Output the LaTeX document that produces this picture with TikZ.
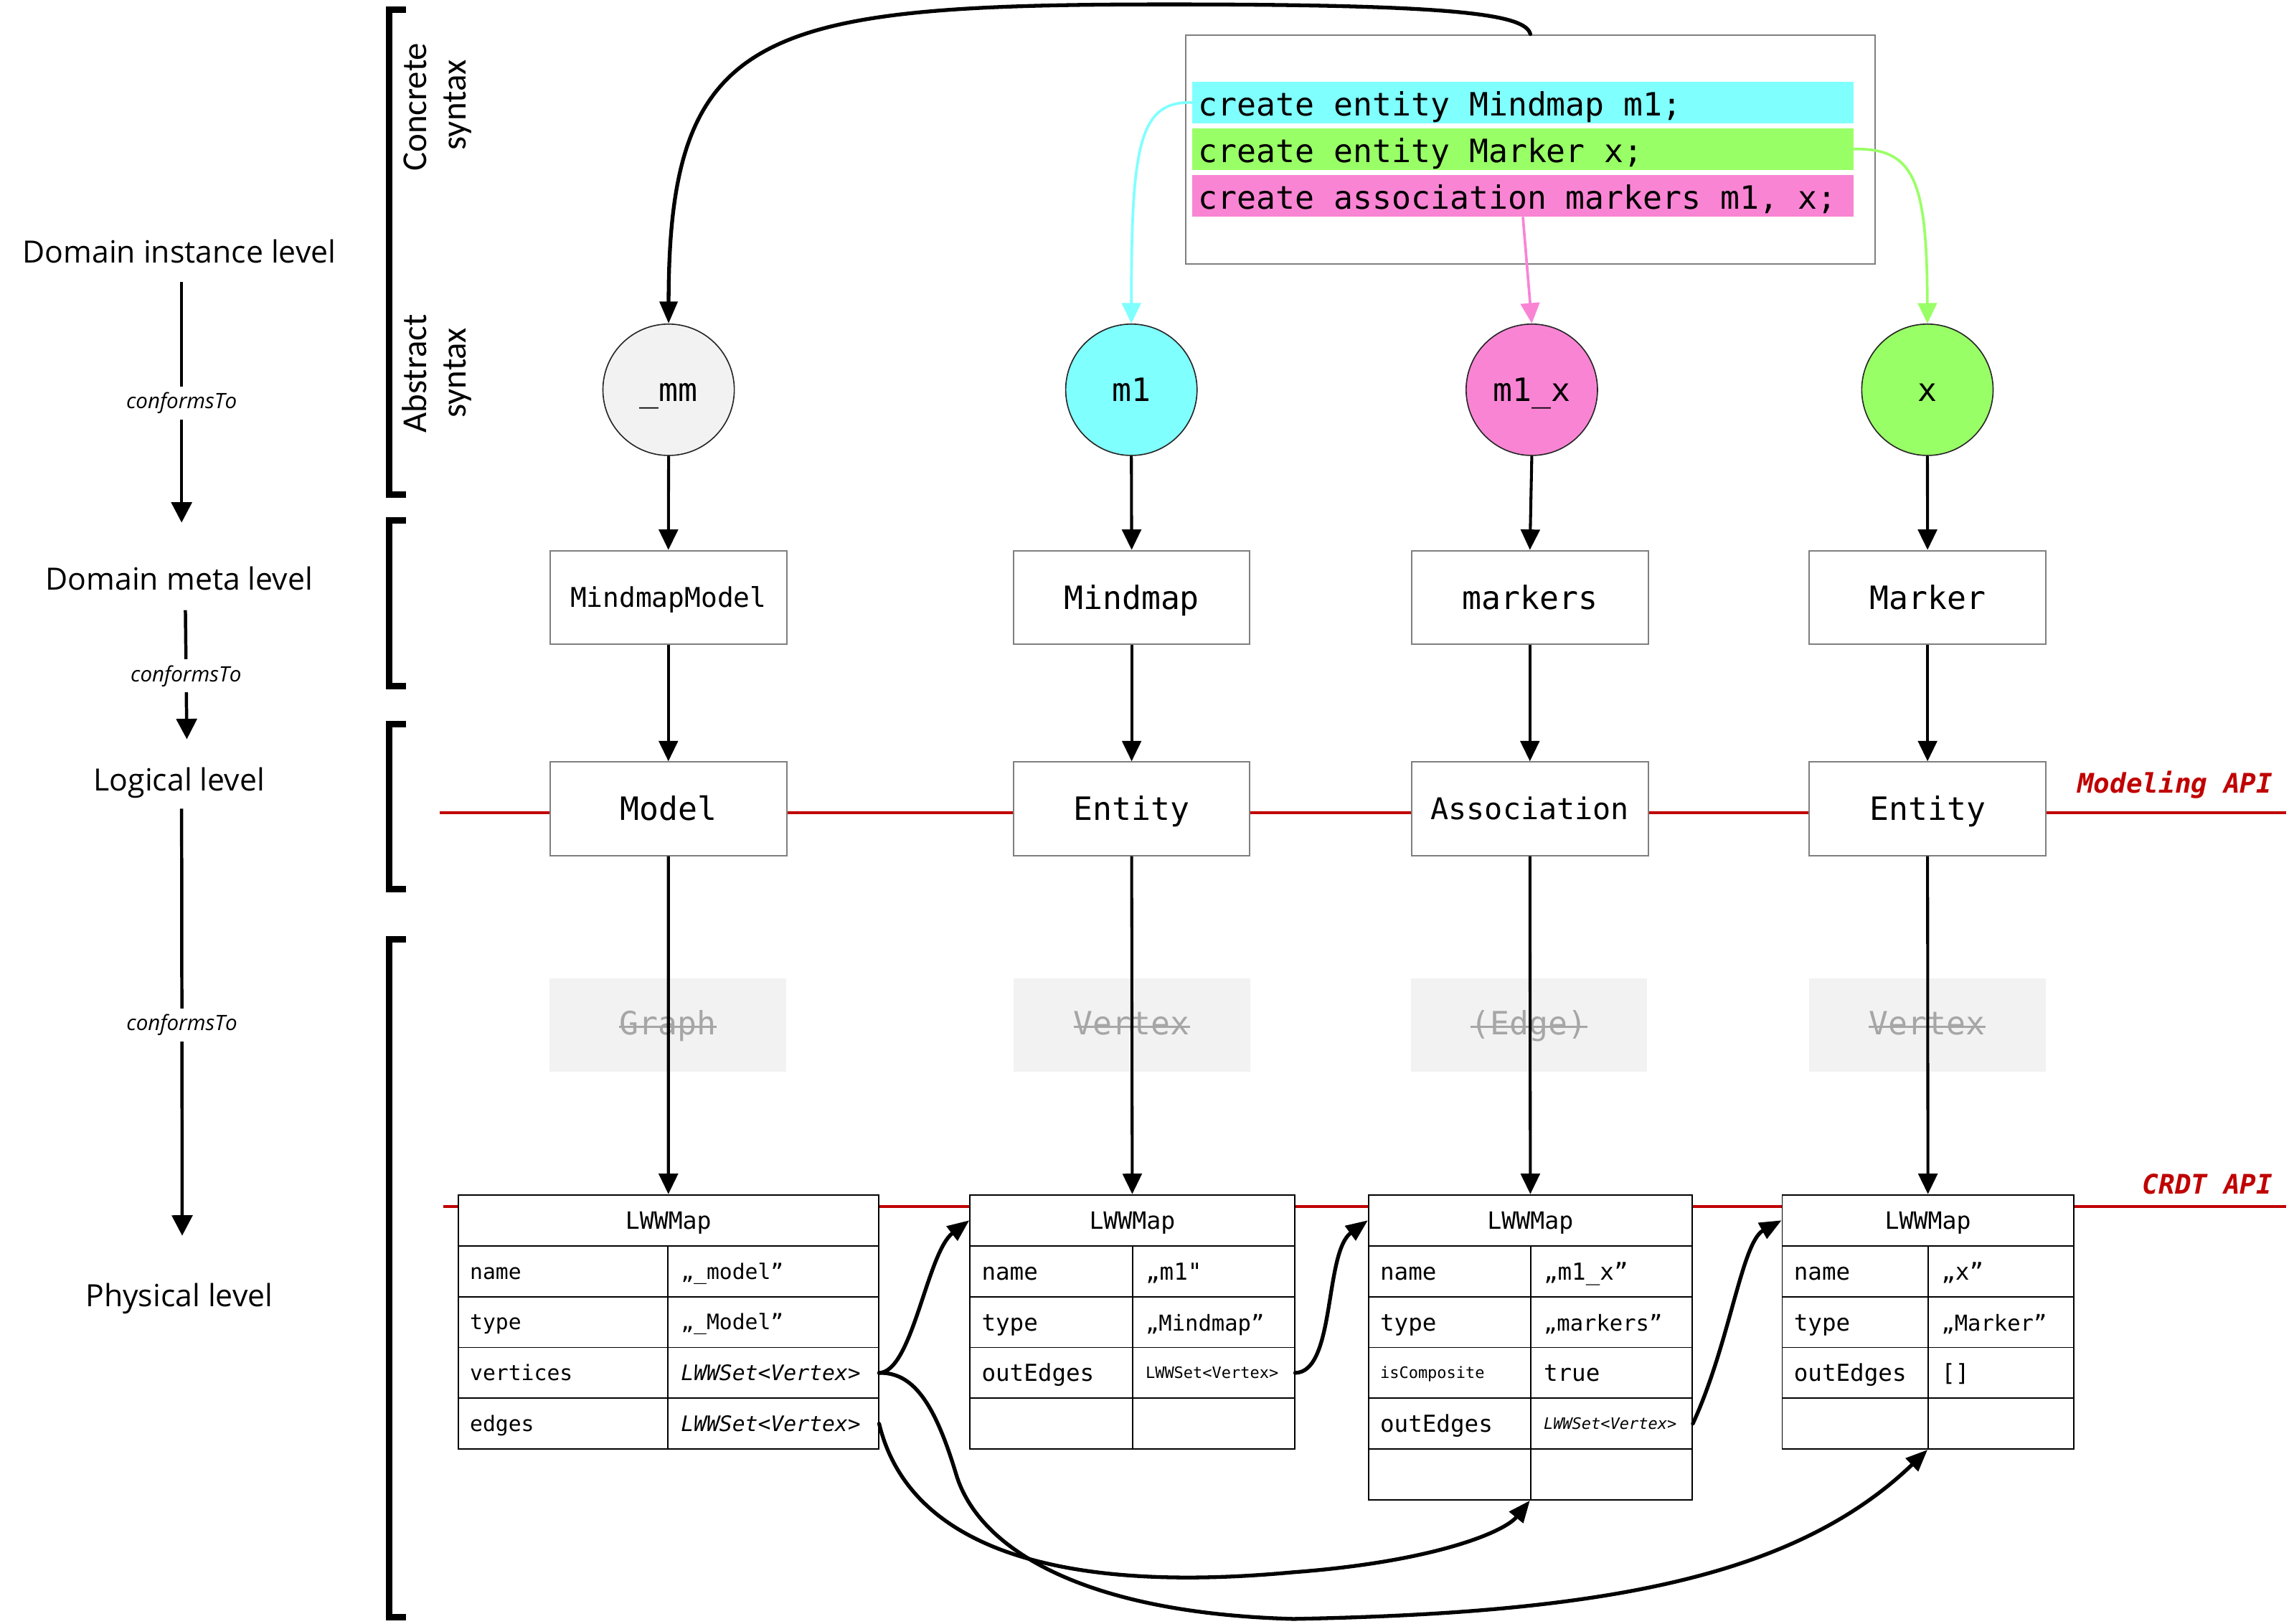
\documentclass[tikz,border=0pt]{standalone}
\usepackage{fontspec}
\setmainfont{Open Sans}
\newfontfamily\monof{DejaVu Sans Mono}
\newfontfamily\narrowf{Carlito}
\usetikzlibrary{arrows.meta}
\definecolor{cy}{HTML}{80FFFF}
\definecolor{gr}{HTML}{99FF66}
\definecolor{pk}{HTML}{F984D4}
\definecolor{lg}{HTML}{F2F2F2}
\definecolor{tg}{HTML}{A6A6A6}
\definecolor{rd}{HTML}{C00000}
\definecolor{bd}{HTML}{7F7F7F}
\begin{document}
\begin{tikzpicture}[x=1pt,y=-1pt,
  lvl/.style={font=\fontsize{21}{25}\selectfont, anchor=base, inner sep=0pt},
  conf/.style={font=\itshape\fontsize{14.5}{17}\selectfont, fill=white, inner xsep=2pt, inner ysep=4pt},
  leftarr/.style={-{Triangle[length=14pt,width=14pt]}, line width=2.2pt},
  bracket/.style={line width=4.4pt, line join=miter},
  rot/.style={font=\narrowf\fontsize{24}{28}\selectfont, rotate=90, anchor=base, inner sep=0pt},
  inst/.style={circle, draw=black!85, line width=0.8pt, minimum size=90pt, inner sep=0pt, font=\monof\fontsize{22}{26}\selectfont, text height=16pt, text depth=0pt},
  rbox/.style={draw=bd, line width=1pt, fill=white, minimum width=162pt, minimum height=64pt, inner sep=0pt, font=\monof\fontsize{22}{26}\selectfont, text height=16pt, text depth=0pt},
  ghost/.style={fill=lg, minimum width=162pt, minimum height=63.7pt, inner sep=0pt},
  ghosttext/.style={font=\monof\fontsize{22}{26}\selectfont, text=tg, inner sep=0pt, anchor=base},
  strike/.style={draw=tg, line width=1.2pt},
  arr/.style={-{Triangle[length=14pt,width=13pt]}, line width=2pt},
  carr/.style={-{Triangle[length=14pt,width=13pt]}, line width=1.8pt},
  crv/.style={-{Triangle[length=15pt,width=12pt]}, line width=2.6pt, line cap=round},
  api/.style={font=\monof\bfseries\itshape\fontsize{18.5}{22}\selectfont, text=rd, anchor=base east, inner sep=0pt},
  apiline/.style={draw=rd, line width=2pt},
  coderow/.style={anchor=north west, minimum width=452.6pt, minimum height=28.7pt, inner sep=0pt},
  codetext/.style={font=\monof\fontsize{22}{26}\selectfont, anchor=base west, inner sep=0pt},
  hdr/.style={draw=black, line width=0.9pt, fill=white, anchor=north west, minimum height=35pt, inner sep=0pt, font=\monof\fontsize{16.3}{19}\selectfont, text height=12pt, text depth=0pt},
  cellA/.style={draw=black, line width=0.9pt, fill=white, anchor=north west, minimum height=34.8pt, inner ysep=0pt, align=left},
  fa/.style={font=\monof\fontsize{14.6}{17}\selectfont, text height=10.6pt, text depth=0pt},
  fai/.style={font=\monof\itshape\fontsize{14.6}{17}\selectfont, text height=10.6pt, text depth=0pt},
  fb/.style={font=\monof\fontsize{16}{19}\selectfont, text height=11.7pt, text depth=0pt},
  fc/.style={font=\monof\fontsize{10.8}{13}\selectfont, text height=7.9pt, text depth=0pt},
  fci/.style={font=\monof\itshape\fontsize{10.8}{13}\selectfont, text height=7.9pt, text depth=0pt},
]
\useasboundingbox (0,0) rectangle (1568,1112);

% ---------- API lines ----------
\coordinate (modL) at (301,556.8);
\coordinate (modR) at (1566,556.8);
\coordinate (crdL) at (303.6,826.7);
\coordinate (crdR) at (1566,826.7);
\draw[apiline] (modL) -- (modR);
\draw[apiline] (crdL) -- (crdR);
\node[api] (modapi) at (1557,543) {Modeling API};
\node[api] (crdapi) at (1557,817.7) {CRDT API};

% ---------- left level labels ----------
\node[lvl] (L1) at (122.8,180.2) {Domain instance level};
\node[lvl] (L2) at (122.8,404.3) {Domain meta level};
\node[lvl] (L3) at (122.8,541.6) {Logical level};
\node[lvl] (L4) at (122.8,895) {Physical level};

\coordinate (a1s) at (124.4,193);
\coordinate (a1e) at (124.4,358);
\coordinate (a2s) at (127,418);
\coordinate (a2e) at (128,506.4);
\coordinate (a3s) at (124.4,554);
\coordinate (a3e) at (124.8,846.5);
\draw[leftarr] (a1s) -- (a1e);
\draw[leftarr] (a2s) -- (a2e);
\draw[leftarr] (a3s) -- (a3e);
\node[conf] (c1) at (124.4,276) {conformsTo};
\node[conf] (c2) at (127.4,463) {conformsTo};
\node[conf] (c3) at (124.6,702) {conformsTo};

% ---------- brackets ----------
\draw[bracket] (278,6.6) -- (266.6,6.6) -- (266.6,339) -- (278,339);
\draw[bracket] (278,356.5) -- (266.6,356.5) -- (266.6,470) -- (278,470);
\draw[bracket] (278,496) -- (266.6,496) -- (266.6,609) -- (278,609);
\draw[bracket] (278,643.5) -- (266.6,643.5) -- (266.6,1107.6) -- (278,1107.6);

\node[rot] (cs1) at (292,73.3) {Concrete};
\node[rot] (cs2) at (319,72) {syntax};
\node[rot] (as1) at (292,256) {Abstract};
\node[rot] (as2) at (319,255.4) {syntax};

% ---------- code box ----------
\node[draw=bd, line width=1pt, anchor=north west, minimum width=472.4pt, minimum height=156.8pt, inner sep=0pt] (code) at (811.6,23.4) {};
\node[coderow, fill=cy] (r1) at (816.7,55.7) {};
\node[coderow, fill=gr] (r2) at (816.7,87.6) {};
\node[coderow, fill=pk] (r3) at (816.7,119.5) {};
\node[codetext] (r1t) at (820.8,79.4) {create entity Mindmap m1;};
\node[codetext] (r2t) at (820.8,111.3) {create entity Marker x;};
\node[codetext] (r3t) at (820.8,143.2) {create association markers m1, x;};

% ---------- instance circles ----------
\node[inst, fill=lg] (mm) at (458,267) {\_mm};
\node[inst, fill=cy] (m1) at (775,267) {m1};
\node[inst, fill=pk] (m1x) at (1049.3,267) {m1\_x};
\node[inst, fill=gr] (x) at (1320.3,267) {x};

% ---------- meta level ----------
\node[rbox, font=\monof\fontsize{18.6}{22}\selectfont, text height=13.6pt] (mmb) at (457.85,409.2) {MindmapModel};
\node[rbox] (mdb) at (775.2,409.2) {Mindmap};
\node[rbox] (mkb) at (1048,409.2) {markers};
\node[rbox] (mrb) at (1320.4,409.2) {Marker};

% ---------- logical level ----------
\node[rbox] (mod) at (457.85,554) {Model};
\node[rbox] (ent1) at (775.2,554) {Entity};
\node[rbox, font=\monof\fontsize{20.5}{24}\selectfont, text height=15pt] (asc) at (1048,554) {Association};
\node[rbox] (ent2) at (1320.4,554) {Entity};

% ---------- ghost (struck) level ----------
\node[ghost] (g1) at (457.6,702.2) {};
\node[ghost] (g2) at (775.3,702.2) {};
\node[ghost] (g3) at (1047.3,702.2) {};
\node[ghost] (g4) at (1320.2,702.2) {};
\node[ghosttext] (g1t) at (457.6,709) {Graph};
\node[ghosttext] (g2t) at (775.3,709) {Vertex};
\node[ghosttext] (g3t) at (1047.3,709) {(Edge)};
\node[ghosttext] (g4t) at (1320.2,709) {Vertex};
\foreach \g in {g1t,g2t,g3t,g4t}{
  \draw[strike] ([yshift=5.5pt]\g.base west) -- ([yshift=5.5pt]\g.base east);
}

% ---------- table 1 ----------
\node[hdr, minimum width=287.8pt] (t1h) at (313.5,818) {LWWMap};
\node[cellA, fa, inner xsep=8pt, text width=127.5pt] (t1a1) at (313.5,853) {name};
\node[cellA, fa, inner xsep=9pt, text width=126.3pt] (t1b1) at (457,853) {„\_model”};
\node[cellA, fa, inner xsep=8pt, text width=127.5pt] (t1a2) at (313.5,887.8) {type};
\node[cellA, fa, inner xsep=9pt, text width=126.3pt] (t1b2) at (457,887.8) {„\_Model”};
\node[cellA, fa, inner xsep=8pt, text width=127.5pt] (t1a3) at (313.5,922.6) {vertices};
\node[cellA, fai, inner xsep=9pt, text width=126.3pt] (t1b3) at (457,922.6) {LWWSet<Vertex>};
\node[cellA, fa, inner xsep=8pt, text width=127.5pt] (t1a4) at (313.5,957.4) {edges};
\node[cellA, fai, inner xsep=9pt, text width=126.3pt] (t1b4) at (457,957.4) {LWWSet<Vertex>};

% ---------- table 2 ----------
\node[hdr, minimum width=222.3pt] (t2h) at (664,818) {LWWMap};
\node[cellA, fb, inner xsep=8pt, text width=95.3pt] (t2a1) at (664,853) {name};
\node[cellA, fb, inner xsep=9pt, text width=93pt] (t2b1) at (775.3,853) {„m1"};
\node[cellA, fb, inner xsep=8pt, text width=95.3pt] (t2a2) at (664,887.8) {type};
\node[cellA, fb, font=\monof\fontsize{15}{18}\selectfont, inner xsep=9pt, text width=93pt] (t2b2) at (775.3,887.8) {„Mindmap”};
\node[cellA, fb, inner xsep=8pt, text width=95.3pt] (t2a3) at (664,922.6) {outEdges};
\node[cellA, fc, inner xsep=9pt, text width=93pt] (t2b3) at (775.3,922.6) {LWWSet<Vertex>};
\node[cellA, fb, inner xsep=8pt, text width=95.3pt] (t2a4) at (664,957.4) {};
\node[cellA, fb, inner xsep=9pt, text width=93pt] (t2b4) at (775.3,957.4) {};

% ---------- table 3 ----------
\node[hdr, minimum width=221.7pt] (t3h) at (937,818) {LWWMap};
\node[cellA, fb, inner xsep=8pt, text width=95pt] (t3a1) at (937,853) {name};
\node[cellA, fb, inner xsep=9pt, text width=92.7pt] (t3b1) at (1048,853) {„m1\_x”};
\node[cellA, fb, inner xsep=8pt, text width=95pt] (t3a2) at (937,887.8) {type};
\node[cellA, fb, font=\monof\fontsize{15}{18}\selectfont, inner xsep=9pt, text width=92.7pt] (t3b2) at (1048,887.8) {„markers”};
\node[cellA, fc, inner xsep=8pt, text width=95pt] (t3a3) at (937,922.6) {isComposite};
\node[cellA, fb, inner xsep=9pt, text width=92.7pt] (t3b3) at (1048,922.6) {true};
\node[cellA, fb, inner xsep=8pt, text width=95pt] (t3a4) at (937,957.4) {outEdges};
\node[cellA, fci, inner xsep=9pt, text width=92.7pt] (t3b4) at (1048,957.4) {LWWSet<Vertex>};
\node[cellA, fb, inner xsep=8pt, text width=95pt] (t3a5) at (937,992.2) {};
\node[cellA, fb, inner xsep=9pt, text width=92.7pt] (t3b5) at (1048,992.2) {};

% ---------- table 4 ----------
\node[hdr, minimum width=199.6pt] (t4h) at (1220.4,818) {LWWMap};
\node[cellA, fb, inner xsep=8pt, text width=84pt] (t4a1) at (1220.4,853) {name};
\node[cellA, fb, inner xsep=9pt, text width=81.6pt] (t4b1) at (1320.4,853) {„x”};
\node[cellA, fb, inner xsep=8pt, text width=84pt] (t4a2) at (1220.4,887.8) {type};
\node[cellA, fb, font=\monof\fontsize{15}{18}\selectfont, inner xsep=9pt, text width=81.6pt] (t4b2) at (1320.4,887.8) {„Marker”};
\node[cellA, fb, inner xsep=8pt, text width=84pt] (t4a3) at (1220.4,922.6) {outEdges};
\node[cellA, fb, inner xsep=9pt, text width=81.6pt] (t4b3) at (1320.4,922.6) {[]};
\node[cellA, fb, inner xsep=8pt, text width=84pt] (t4a4) at (1220.4,957.4) {};
\node[cellA, fb, inner xsep=9pt, text width=81.6pt] (t4b4) at (1320.4,957.4) {};

% ---------- vertical arrows ----------
\draw[arr] (mm.south) -- (mmb.north);
\draw[arr] (m1.south) -- (mdb.north);
\draw[arr] (m1x.south) -- (mkb.north);
\draw[arr] (x.south) -- (mrb.north);
\draw[arr] (mmb.south) -- (mod.north);
\draw[arr] (mdb.south) -- (ent1.north);
\draw[arr] (mkb.south) -- (asc.north);
\draw[arr] (mrb.south) -- (ent2.north);
\draw[arr] (mod.south) -- (t1h.north);
\draw[arr] (ent1.south) -- (t2h.north);
\draw[arr] (asc.south) -- (t3h.north);
\draw[arr] (ent2.south) -- (t4h.north);

% ---------- concrete syntax connectors ----------
\draw[crv] (code.north) .. controls (1045,10) and (1000,3) .. (800,3) .. controls (520,3) and (458,20) .. (mm.north);
\draw[carr, draw=cy] (r1.west) .. controls (780,69) and (775,100) .. (m1.north);
\draw[carr, draw=gr] (r2.east) .. controls (1312,101) and (1320,125) .. (x.north);
\draw[carr, draw=pk] (r3.south) -- (m1x.north);

% ---------- physical connectors ----------
\draw[crv] (t1b3.east) .. controls (625,940) and (635,858) .. (t2h.west);
\draw[crv] (t2b3.east) .. controls (915,940) and (907,858) .. (t3h.west);
\draw[crv] (t3b4.east) .. controls (1185,920) and (1193,851) .. (t4h.west);
\draw[crv] (t1b3.east) .. controls (625,940) and (640,960) .. (655,1010) .. controls (670,1060) and (740,1105) .. (886,1109) .. controls (1100,1105) and (1230,1080) .. (t4b4.south west);
\draw[crv] (t1b4.east) .. controls (630,1090) and (800,1085) .. (886,1077) .. controls (980,1070) and (1030,1050) .. (t3b5.south west);
\end{tikzpicture}
\end{document}
